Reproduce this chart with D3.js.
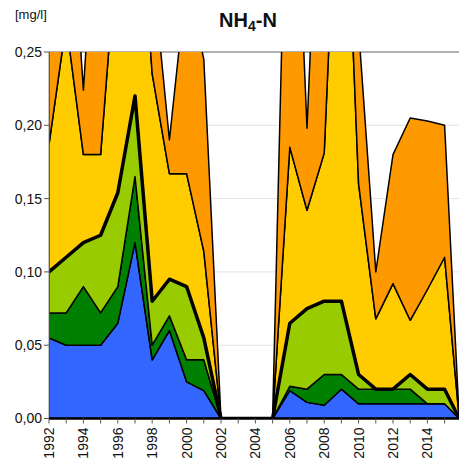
<!DOCTYPE html>
<html><head><meta charset="utf-8">
<script src="https://cdn.jsdelivr.net/npm/d3@7/dist/d3.min.js"></script>
<style>
body{margin:0;background:#fff}
svg{display:block}
text{font-family:"Liberation Sans",Arial,Helvetica,sans-serif;fill:#111}
</style>
</head><body>
<script>
// ---- data (boundaries of the stacked bands, mg/l) ----
const years = [1992,1993,1994,1995,1996,1997,1998,1999,2000,2001,2002,2003,2004,2005,2006,2007,2008,2009,2010,2011,2012,2013,2014,2015,2015.85];
const blueTop =       [0.055,0.050,0.050,0.050,0.065,0.120,0.040,0.060,0.025,0.019,0,0,0,0,0.019,0.011,0.009,0.020,0.010,0.010,0.010,0.010,0.010,0.010,0];
const darkGreenTop =  [0.072,0.072,0.090,0.072,0.090,0.165,0.050,0.070,0.040,0.040,0,0,0,0,0.022,0.020,0.030,0.030,0.020,0.020,0.020,0.020,0.010,0.010,0];
const lightGreenTop = [0.100,0.110,0.120,0.125,0.154,0.220,0.080,0.095,0.090,0.055,0,0,0,0,0.065,0.075,0.080,0.080,0.030,0.020,0.020,0.030,0.020,0.020,0];
const yellowTop =     [0.187,0.270,0.180,0.180,0.330,0.400,0.235,0.167,0.167,0.114,0,0,0,0,0.185,0.142,0.181,0.450,0.160,0.068,0.092,0.067,0.088,0.110,0];
const orangeTop =     [0.350,0.400,0.224,0.410,0.450,0.450,0.310,0.190,0.300,0.245,0,0,0,0,0.480,0.198,0.470,0.500,0.266,0.100,0.180,0.205,0.203,0.200,0];
const bandColors = ["#3366ff","#008000","#99cc00","#ffcc00","#ff9900"];
const xTickYears = d3.range(1992, 2016);
const xLabelYears = [1992,1994,1996,1998,2000,2002,2004,2006,2008,2010,2012,2014];
const yTickValues = [0,0.05,0.10,0.15,0.20,0.25];
const yTickLabels = ["0,00","0,05","0,10","0,15","0,20","0,25"];
const unitLabel = "[mg/l]";

// ---- layout ----
const W = 459, H = 460;
const x = d3.scaleLinear().domain([1992, 2016]).range([49, 461.8]);
const y = d3.scaleLinear().domain([0, 0.25]).range([418.5, 52]);
const plotL = 49, plotR = 459, plotT = y(0.25), plotB = y(0);

const svg = d3.select("body").append("svg").attr("width", W).attr("height", H);

svg.append("defs").append("clipPath").attr("id","clip")
  .append("rect").attr("x", plotL).attr("y", plotT).attr("width", plotR-plotL).attr("height", plotB-plotT);

// gridlines
svg.append("g").selectAll("line").data(yTickValues.slice(1)).join("line")
  .attr("x1", plotL).attr("x2", plotR)
  .attr("y1", d => y(d)).attr("y2", d => y(d))
  .attr("stroke", d => d === 0.25 ? "#999" : "#e4e4e4")
  .attr("stroke-width", d => d === 0.25 ? 1.5 : 1);

// bands
const bounds = [years.map(()=>0), blueTop, darkGreenTop, lightGreenTop, yellowTop, orangeTop];
const g = svg.append("g").attr("clip-path","url(#clip)");
for (let i = 1; i < bounds.length; i++) {
  const lo = bounds[i-1], hi = bounds[i];
  const area = d3.area()
    .x((d, j) => x(years[j]))
    .y0((d, j) => y(lo[j]))
    .y1((d, j) => y(hi[j]));
  g.append("path").datum(years)
    .attr("d", area)
    .attr("fill", bandColors[i-1])
    .attr("stroke", "#000")
    .attr("stroke-width", 1.5)
    .attr("stroke-linejoin", "round");
}
// thick median line
g.append("path").datum(lightGreenTop)
  .attr("d", d3.line().x((d, j) => x(years[j])).y(d => y(d)))
  .attr("fill","none").attr("stroke","#000").attr("stroke-width",3.5).attr("stroke-linejoin","round");

// y axis
svg.append("line").attr("x1", plotL).attr("x2", plotL).attr("y1", plotT).attr("y2", plotB)
  .attr("stroke","#888").attr("stroke-width",1);
const yt = svg.append("g");
yt.selectAll("line").data(yTickValues).join("line")
  .attr("x1", plotL-5).attr("x2", plotL).attr("y1", d=>y(d)).attr("y2", d=>y(d))
  .attr("stroke","#555");
yt.selectAll("text").data(yTickValues).join("text")
  .attr("x", plotL-7).attr("y", d=>y(d)).attr("dy","0.35em")
  .attr("text-anchor","end").attr("font-size",14)
  .text((d,i)=>yTickLabels[i]);

// x axis
svg.append("line").attr("x1", plotL).attr("x2", plotR).attr("y1", plotB).attr("y2", plotB)
  .attr("stroke","#000").attr("stroke-width",2.5);
svg.append("g").selectAll("line").data(xTickYears).join("line")
  .attr("x1", d=>x(d)).attr("x2", d=>x(d)).attr("y1", plotB).attr("y2", plotB+5)
  .attr("stroke","#555");
svg.append("g").selectAll("text").data(xLabelYears).join("text")
  .attr("transform", d => `translate(${x(d)},${plotB+9}) rotate(-90)`)
  .attr("dy","0.36em").attr("text-anchor","end").attr("font-size",14)
  .text(d=>d);

// unit + title
svg.append("text").attr("x", 15).attr("y", 19).attr("font-size", 13).text(unitLabel);
const t = svg.append("text").attr("x", 248).attr("y", 27).attr("text-anchor","middle")
  .attr("font-size", 20).attr("font-weight","bold");
t.append("tspan").text("NH");
t.append("tspan").attr("font-size",14).attr("dy",4).text("4");
t.append("tspan").attr("dy",-4).text("-N");
</script>
</body></html>
